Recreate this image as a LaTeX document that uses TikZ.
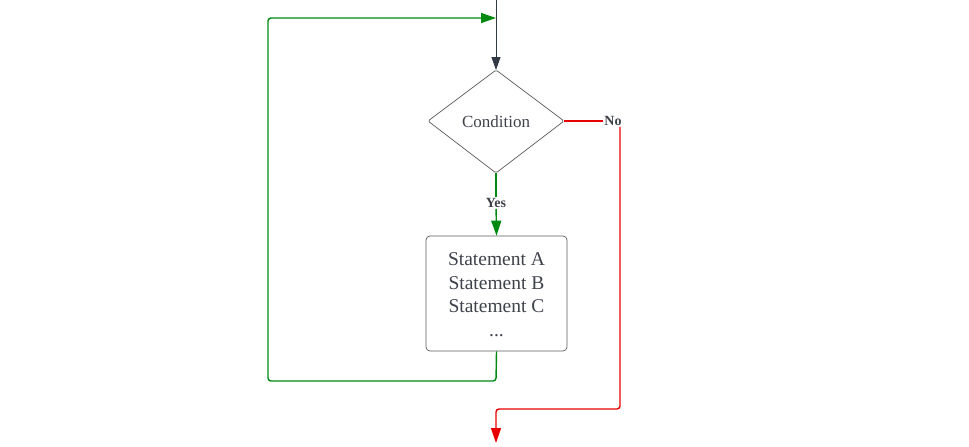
\documentclass[tikz,border=0pt]{standalone}
\usepackage{fontspec}
\setmainfont{Liberation Serif}
\usetikzlibrary{arrows.meta,shapes.geometric}
\definecolor{flowgreen}{RGB}{0,138,18}
\definecolor{flowred}{RGB}{232,0,0}
\definecolor{txtgray}{RGB}{62,66,74}
\definecolor{edgegray}{RGB}{90,90,90}
\definecolor{tipdark}{RGB}{50,56,68}
\tikzset{
  x=1pt,y=-1pt,
  tip/.style={-{Triangle[length=15pt,width=10pt]}},
  greenline/.style={draw=flowgreen,line width=1.4pt,rounded corners=3pt},
  redline/.style={draw=flowred,line width=1.4pt,rounded corners=3pt},
  lbl/.style={font=\fontsize{14}{16}\selectfont\bfseries,text=txtgray,fill=white,inner sep=1pt},
}
\begin{document}
\begin{tikzpicture}
\useasboundingbox (0,0) rectangle (969,447);
% diamond
\coordinate (dT) at (496,70);
\coordinate (dB) at (496,173);
\coordinate (dL) at (428,121);
\coordinate (dR) at (564,121);
\draw[edgegray,line width=0.7pt,rounded corners=1.5pt] (dT) -- (dR) -- (dB) -- (dL) -- cycle;
\node[font=\fontsize{17}{20}\selectfont,text=txtgray] (cond) at (496,121.5) {Condition};
% statement box
\node[draw=edgegray,line width=0.7pt,rounded corners=4pt,minimum width=141pt,minimum height=115pt,inner sep=0pt] (box) at (496.5,293.5) {};
\node[align=center,font=\fontsize{19.5}{23.5}\selectfont,text=txtgray] (stm) at (496.5,294.5) {Statement A\\Statement B\\Statement C\\...};
% top entry
\coordinate (top) at (496,0);
\draw[edgegray,line width=0.9pt,-{Triangle[length=13pt,width=9pt,fill=tipdark]},tipdark] (top) -- (dT);
% yes branch
\node[lbl] (yes) at (496,203) {Yes};
\draw[greenline] (dB) -- (yes);
\draw[greenline,tip,flowgreen] (yes) -- (box.north);
% loop back
\coordinate (lb1) at (496,381);
\coordinate (lb2) at (268,381);
\coordinate (lb3) at (268,18);
\coordinate (lb4) at (496,18);
\draw[greenline,tip,flowgreen] (box.south) -- (lb1) -- (lb2) -- (lb3) -- (lb4);
% no branch
\node[lbl] (no) at (613,121) {No};
\draw[redline] (dR) -- (no.west);
\coordinate (n1) at (620,409);
\coordinate (n2) at (496,409);
\coordinate (n3) at (496,443);
\draw[redline,tip,flowred] (no.south -| n1) -- (n1) -- (n2) -- (n3);
\end{tikzpicture}
\end{document}
